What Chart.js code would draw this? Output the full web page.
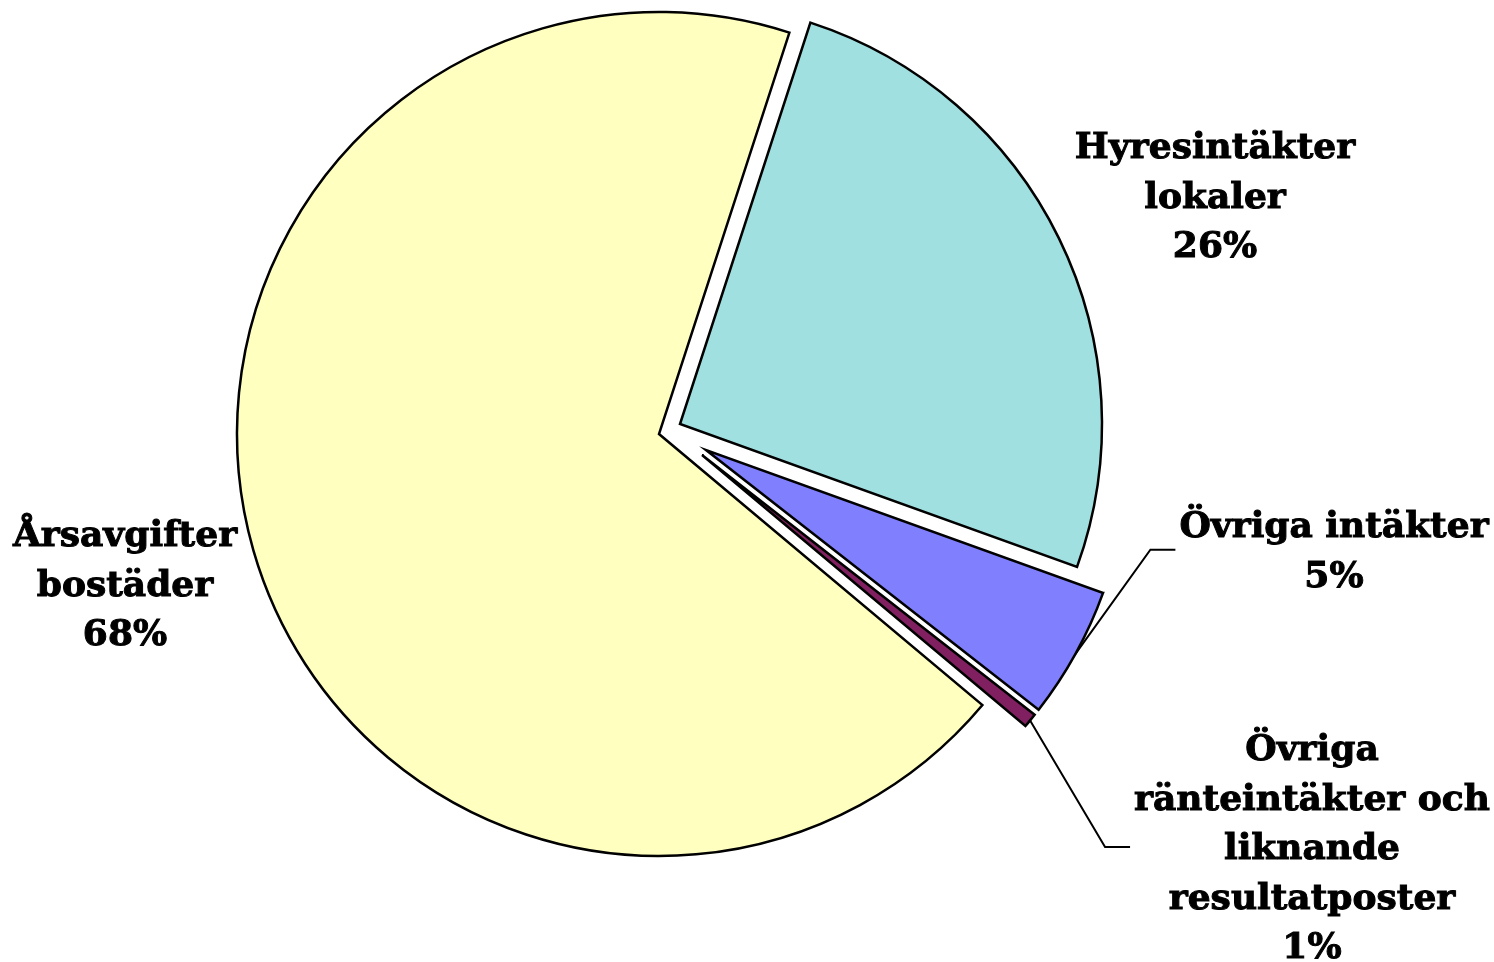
<!DOCTYPE html>
<html>
<head>
<meta charset="utf-8">
<script src="https://cdn.jsdelivr.net/npm/chart.js@4.4.0/dist/chart.umd.min.js"></script>
<style>
  html, body { margin: 0; padding: 0; background: #fff; }
  #wrap { width: 1494px; height: 962px; position: relative; }
</style>
</head>
<body>
<div id="wrap"><canvas id="pie"></canvas></div>
<script>
// Kategorier och andelar av intäkterna (procent)
var categories = ["Hyresintäkter lokaler", "Övriga intäkter", "Övriga ränteintäkter och liknande resultatposter", "Årsavgifter bostäder"];
var shares = [25.5, 5.05, 0.55, 68.9];
var pctLabels = ["26%", "5%", "1%", "68%"];
var labelLines = [
    ["Hyresintäkter", "lokaler"],
    ["Övriga intäkter"],
    ["Övriga", "ränteintäkter och", "liknande", "resultatposter"],
    ["Årsavgifter", "bostäder"]
];
var colors = ["#A0E0E0", "#8080FF", "#802060", "#FFFFC0"];

// Utdragna bitar (px) och etikettplacering relativt cirkelns mitt
var explode = [[21, -10], [47, 16], [43, 21], [0, 0]];
var labelPos = [[556, -276], [675, 103], [653, 326], [-534, 112]];
var hasLeader = [false, true, true, false];
var FONT = "bold 36px 'DejaVu Serif'";
var LINE_H = 49.5;

// Ritar varje bit förskjuten, med bibliotekets egen arc.draw
var explodePlugin = {
    id: 'explode',
    beforeDatasetDraw: function (chart, args) {
        var ctx = chart.ctx;
        args.meta.data.forEach(function (arc, i) {
            ctx.save();
            ctx.translate(explode[i][0], explode[i][1]);
            arc.draw(ctx, chart.chartArea);
            ctx.restore();
        });
        return false;
    }
};

// Etiketter och hänvisningslinjer
var labelPlugin = {
    id: 'pieLabels',
    afterDatasetsDraw: function (chart) {
        var ctx = chart.ctx;
        var meta = chart.getDatasetMeta(0);
        ctx.save();
        ctx.font = FONT;
        ctx.fillStyle = '#000';
        ctx.strokeStyle = '#000';
        ctx.textAlign = 'center';
        ctx.textBaseline = 'alphabetic';
        meta.data.forEach(function (arc, i) {
            var lines = labelLines[i].concat(pctLabels[i]);
            var cx = arc.x + labelPos[i][0];
            var by = arc.y + labelPos[i][1];
            var maxW = 0;
            ctx.lineWidth = 1;
            lines.forEach(function (t, k) {
                ctx.fillText(t, cx, by + k * LINE_H);
                ctx.strokeText(t, cx, by + k * LINE_H);
                maxW = Math.max(maxW, ctx.measureText(t).width);
            });
            if (hasLeader[i]) {
                var mid = (arc.startAngle + arc.endAngle) / 2;
                var sx = arc.x + explode[i][0] + Math.cos(mid) * arc.outerRadius;
                var sy = arc.y + explode[i][1] + Math.sin(mid) * arc.outerRadius;
                var ey = by + (lines.length - 1) * LINE_H / 2 - 12;
                var ex = cx - maxW / 2 - 4;
                ctx.beginPath();
                ctx.lineWidth = 2;
                ctx.moveTo(sx, sy);
                ctx.lineTo(ex - 25, ey);
                ctx.lineTo(ex, ey);
                ctx.stroke();
            }
        });
        ctx.restore();
    }
};

var ctx = document.getElementById('pie').getContext('2d');
var pieChart = new Chart(ctx, {
    type: 'pie',
    data: {
        labels: categories,
        datasets: [{
            data: shares,
            backgroundColor: colors,
            borderColor: '#000',
            borderWidth: 2.5,
            borderJoinStyle: 'miter'
        }]
    },
    options: {
        responsive: true,
        maintainAspectRatio: false,
        animation: false,
        rotation: 18,
        radius: 422,
        layout: { padding: { left: 0, right: 176, top: 0, bottom: 94 } },
        plugins: {
            legend: { display: false },
            tooltip: { enabled: false }
        }
    },
    plugins: [explodePlugin, labelPlugin]
});
</script>
</body>
</html>
